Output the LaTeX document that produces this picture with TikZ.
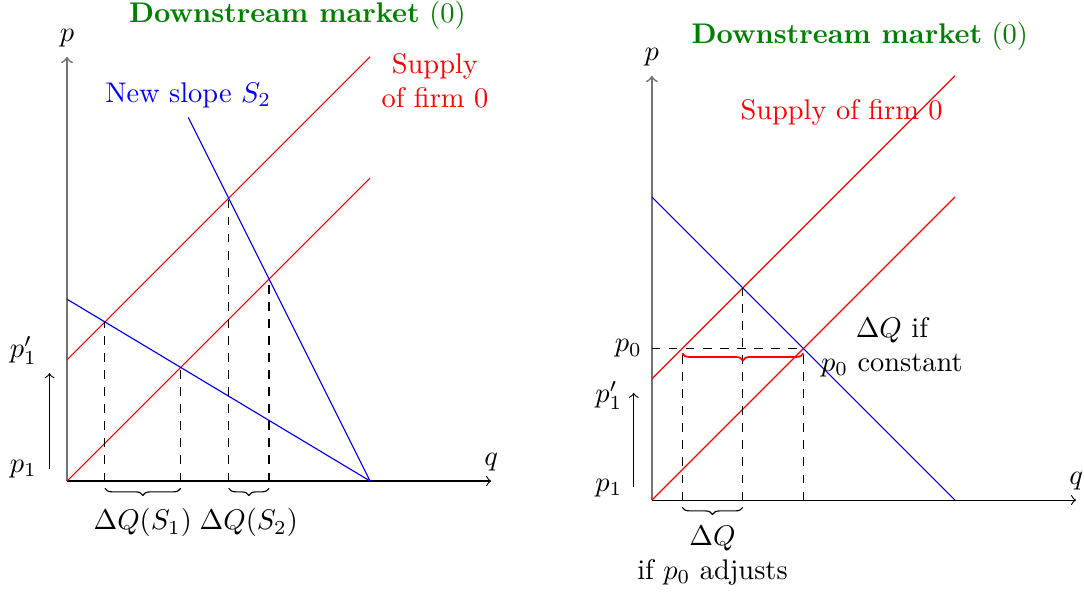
\documentclass[tikz,border=0pt]{standalone}
\usepackage{tikz}
\usetikzlibrary{decorations.pathreplacing}
\definecolor{MarketGreen}{RGB}{0,128,0}
\definecolor{AxisGray}{gray}{0.45}

\begin{document}
\begin{tikzpicture}[x=0.75cm,y=0.75cm,
  supply/.style={red},
  demand/.style={blue},
  guide/.style={dashed},
  yaxis/.style={->,AxisGray,semithick},
  xaxis/.style={->},
  qbrace/.style={decorate,decoration={brace,mirror}},
  title/.style={text=MarketGreen}]
  \useasboundingbox (-1.106,-1.848) rectangle (16.78,7.937);

  % left panel: steeper demand
  \coordinate (LO) at (0,0);
  \node[anchor=south] (Lp) at (0,7) {$p$};
  \node[anchor=south] (Lq) at (7,0) {$q$};
  \draw[yaxis] (LO) -- (Lp.south);
  \draw[xaxis] (LO) -- (Lq.south);
  \node[title] (Ltitle) at (3.8,7.69) {\textbf{Downstream market} $(0)$};
  \coordinate (LS1a) at (0,0);   \coordinate (LS1b) at (5,5);
  \coordinate (LS2a) at (0,2);   \coordinate (LS2b) at (5,7);
  \coordinate (LD1a) at (0,3);   \coordinate (LDend) at (5,0);
  \coordinate (LD2a) at (2,6);
  \draw[supply] (LS1a) -- (LS1b);
  \draw[supply] (LS2a) -- (LS2b);
  \draw[demand] (LD1a) -- (LDend);
  \draw[demand] (LD2a) -- (LDend);
  \node[text=blue] (Lslope) at (2,6.37) {New slope $S_2$};
  \node[text=red,align=center] (Lsupply) at (6.07,6.61) {Supply\\of firm 0};
  \foreach \x/\y in {0.625/2.625, 1.875/1.875, 2.6667/4.6667, 3.3333/3.3333} {
    \draw[guide] (\x,0) -- (\x,\y);
  }
  \draw[qbrace] (0.625,-0.12) -- (1.875,-0.12);
  \draw[qbrace] (2.6667,-0.12) -- (3.3333,-0.12);
  \node (LdQ1) at (1.25,-0.69) {$\Delta Q(S_1)$};
  \node (LdQ2) at (3,-0.69) {$\Delta Q(S_2)$};
  \node (Lp1) at (-0.72,0.2) {$p_1$};
  \node (Lp1n) at (-0.72,2.15) {$p_1'$};
  \coordinate (Lup0) at (-0.29,0.2);
  \coordinate (Lup1) at (-0.29,1.78);
  \draw[->] (Lup0) -- (Lup1);

  % right panel: p0 constant vs. adjusting
  \begin{scope}[shift={(9.65,-0.314)}]
  \coordinate (RO) at (0,0);
  \node[anchor=south] (Rp) at (0,7) {$p$};
  \node[anchor=south] (Rq) at (7,0) {$q$};
  \draw[yaxis] (RO) -- (Rp.south);
  \draw[xaxis] (RO) -- (Rq.south);
  \node[title] (Rtitle) at (3.43,7.65) {\textbf{Downstream market} $(0)$};
  \coordinate (RS1a) at (0,0);   \coordinate (RS1b) at (5,5);
  \coordinate (RS2a) at (0,2);   \coordinate (RS2b) at (5,7);
  \coordinate (RDa) at (0,5);    \coordinate (RDb) at (5,0);
  \draw[supply] (RS1a) -- (RS1b);
  \draw[supply] (RS2a) -- (RS2b);
  \draw[demand] (RDa) -- (RDb);
  \node[text=red] (Rsupply) at (3.13,6.39) {Supply of firm 0};
  \node[anchor=east] (Rp0) at (0,2.5) {$p_0$};
  \draw[guide] (Rp0.east) -- (2.5,2.5);
  \foreach \x/\y in {0.5/2.5, 1.5/3.5, 2.5/2.5} {
    \draw[guide] (\x,0) -- (\x,\y);
  }
  \draw[qbrace,red,semithick] (0.5,2.42) -- (2.5,2.42);
  \node[align=center] (RdQc) at (3.96,2.52) {$\Delta Q$ if\\$p_0$ constant};
  \draw[qbrace] (0.5,-0.12) -- (1.5,-0.12);
  \node[align=center] (RdQa) at (1,-0.92) {$\Delta Q$\\if $p_0$ adjusts};
  \node (Rp1) at (-0.71,0.2) {$p_1$};
  \node (Rp1n) at (-0.71,1.73) {$p_1'$};
  \coordinate (Rup0) at (-0.3,0.21);
  \coordinate (Rup1) at (-0.3,1.77);
  \draw[->] (Rup0) -- (Rup1);
  \end{scope}
\end{tikzpicture}
\end{document}
